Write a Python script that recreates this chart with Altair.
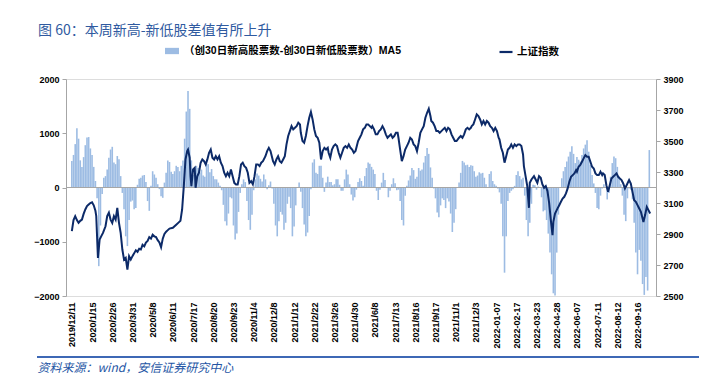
import altair as alt
import pandas as pd

# ---------------- data ----------------
BAR_LABEL = "（创30日新高股票数-创30日新低股票数）MA5"
LINE_LABEL = "上证指数"

tick_labels = ["2019/12/11", "2020/1/15", "2020/2/26", "2020/3/31", "2020/5/8", "2020/6/11",
               "2020/7/17", "2020/8/20", "2020/9/23", "2020/11/4", "2020/12/8", "2021/1/12",
               "2021/2/22", "2021/3/26", "2021/4/30", "2021/6/8", "2021/7/13", "2021/8/16",
               "2021/9/17", "2021/11/1", "2021/12/3", "2022-01-07", "2022-02-17", "2022-03-23",
               "2022-04-28", "2022-06-07", "2022-07-11", "2022-08-12", "2022-09-16"]
tick_day = [i * 24 for i in range(len(tick_labels))]  # trading-day index of each label

# new-high minus new-low (MA5), one value every 2 trading days
bar_day = list(range(0, 688, 2))
bar_val = [
    490, 600, 800, 1090, 900, 500, 380, 560, 780, 920, 930, 720, 600, 380, 120, -200,
    -1450, -700, -120, 180, 210, 330, 550, 700, 750, 460, 430, 580, 520, 210, -100, -400,
    -900, -1080, -600, -260, -240, -400, -380, 50, 160, 180, 220, 230, 100, -250, -430, 30,
    300, 240, 180, 60, -30, -160, -190, 90, 270, 500,
    470, 290, 250, 300, 400, 380, 300, 400, 500, 900, 1400, 1780, 1450, 500, 230, 250,
    400, 360, 280, 330, 220, 200, 440, 430, 280, 340, 210, 150, 150, 90, 30, -50,
    -320, -620, -700, -480, -180, -200, -700, -960, -850, -450, -100, 60, 150, 100, -250, -600,
    -780, -500, -50, 150, 260, 220, 160, 110, 240,
    150, -30, 40, 110, -20, -300, -700, -900, -620, -450, -500, -780, -650, -300, -170, -380,
    -900, -720, -330, 0, 90, -80, -380, -680, -900, -830, -525, -30, 460, 520, 270, 250,
    400, 400, 180, -80, 90, 200, 100, 100, 40, 60, 150, 150, 50, -60, -60, 150,
    330, 240, 60, -130, -240, -180, -40, 100,
    170, 120, 30, 210, 360, 460, 440, 380, 330, 250, -60, -230, -40, 90, 270, 140,
    -10, -180, -60, 60, 170, 80, -50, -40, -250, -600, -700, -150, 30, 130, 220, 360,
    320, 160, 200, 360, 310, 330, 460, 580, 730, 620, 370, 180, -20, -200, -460, -550,
    -330, -200, -230, -380, -200, -260, -480, -820, -650, -400,
    0, 90, 270, 490, 460, 410, 420, 380, 410, 400, 300, 200, 220, 280, 260, 270,
    180, 60, 0, 250, 300, 120, 60, 30, -20, -90, -300, -900, -1570, -900, -250, -100,
    -60, -30, 30, 230, 300, 210, 150, 180, -150, -600, -900, -650, -300, 50, 40, -40,
    20, 0, -180, -440, -420, -600, -850, -1200, -1600,
    -1950, -1990, -1200, -500, 0, 170, 300, 380, 480, 570, 660, 760, 620, 450, 560, 510,
    480, 600, 720, 790, 870, 660, 415, 230, 75, -100, -380, -400, -150, -20, 60, 0,
    -220, -100, 200, 450, 570, 540, 380, 200, 60, -150, -500, -620, -200, -20, -40, -220,
    -650, -1200, -1600, -1150, -1350, -1780, -1980, -1650, -1900, 690,
]

# Shanghai Composite index (right axis)
line_day = [
    0, 2, 4, 6, 8, 10, 12, 14, 16, 18, 20, 22, 24, 26, 28, 29, 31, 33, 35, 37, 40, 42, 44, 46,
    48, 50, 52, 54, 56, 58, 60, 62, 64, 66, 68, 70, 72, 74, 76, 78, 80, 82, 84, 86, 88, 90,
    92, 94, 96, 98, 100, 102, 104, 106, 108, 110, 112, 114,
    116, 120, 124, 127, 129, 131, 133, 135, 137, 138, 140, 141, 142, 144, 146, 147, 149, 151,
    153, 155, 157, 159, 161, 163, 165, 167, 169, 171, 173, 175, 177, 179, 181, 183, 185, 187,
    189, 191, 193, 195, 197, 199, 201, 203, 205, 207, 209, 211, 213, 215, 217, 219, 221, 223,
    225, 227,
    230, 232, 234, 236, 238, 239, 241, 243, 245, 247, 249, 251, 253, 255, 257, 259, 261, 263,
    265, 267, 269, 271, 272, 274, 276, 278, 280, 282, 284, 286, 288, 290, 292, 294, 296, 298,
    300, 302, 304, 305, 307, 309, 311, 313, 315, 317, 319, 321, 323, 325, 327, 329, 331, 333,
    335, 337, 338, 340, 342,
    344, 346, 348, 350, 352, 354, 356, 357, 359, 361, 363, 365, 367, 369, 371, 373, 375, 377,
    379, 381, 383, 385, 387, 388, 390, 392, 394, 396, 398, 400, 402, 404, 406, 408, 410, 412,
    414, 416, 418, 420, 422, 424, 426, 427, 429, 431, 433, 435, 437, 439, 441, 443, 445, 447,
    449, 451, 453, 455,
    457, 460, 462, 464, 466, 468, 470, 472, 474, 475, 477, 479, 481, 483, 485, 487, 489, 491,
    493, 495, 497, 499, 501, 503, 505, 507, 508, 510, 512, 514, 516, 518, 520, 522, 524, 526,
    528, 530, 532, 534, 536, 537, 539, 541, 543, 544, 546, 549, 551, 553, 555, 557, 559, 561,
    563, 565, 567, 569, 571,
    572, 574, 577, 579, 581, 583, 585, 587, 589, 591, 593, 595, 597, 599, 600, 602, 604, 606,
    608, 610, 612, 614, 616, 618, 620, 622, 624, 626, 628, 630, 631, 633, 635, 637, 639, 641,
    643, 645, 647, 649, 651, 653, 655, 657, 659, 661, 662, 664, 666, 668, 670, 672, 674, 676,
    678, 679, 681, 683, 685, 687,
]
line_val = [
    2918, 2990, 3015, 2990, 2972, 2985, 2993, 3030, 3058, 3080, 3090, 3100, 3105, 3085, 3050, 3015,
    2746, 2864, 2886, 2907, 2950, 3015, 3037, 2993, 2972, 3015, 2993, 3069, 2972, 2907, 2800, 2735,
    2746, 2670, 2757, 2735, 2757, 2775, 2795, 2785, 2805, 2800, 2830, 2820, 2845, 2855, 2880, 2870,
    2895, 2885, 2880, 2860, 2845, 2815, 2870, 2900, 2915, 2925,
    2935, 2940, 2960, 2975, 2985, 3058, 3209, 3381, 3435, 3445, 3392, 3273, 3209, 3316, 3327, 3198,
    3273, 3295, 3360, 3381, 3370, 3349, 3381, 3424, 3445, 3392, 3381, 3402, 3381, 3402, 3360, 3338,
    3295, 3273, 3295, 3273, 3316, 3273, 3230, 3220, 3220, 3273, 3349, 3360, 3338, 3327, 3295, 3230,
    3241, 3220, 3273, 3349, 3349, 3338, 3360, 3370,
    3402, 3435, 3456, 3435, 3392, 3370, 3349, 3381, 3402, 3370, 3360, 3381, 3402, 3478, 3532, 3564,
    3596, 3575, 3585, 3596, 3618, 3607, 3553, 3500, 3489, 3532, 3596, 3650, 3687, 3639, 3575, 3532,
    3521, 3489, 3381, 3435, 3456, 3445, 3456, 3424, 3392, 3445, 3467, 3478, 3467, 3424, 3392, 3424,
    3456, 3467, 3456, 3478, 3456, 3445, 3424, 3435, 3456, 3500, 3521,
    3543, 3575, 3585, 3607, 3607, 3596, 3585, 3596, 3575, 3543, 3543, 3564, 3575, 3596, 3575, 3543,
    3521, 3532, 3543, 3521, 3532, 3553, 3553, 3521, 3445, 3370, 3402, 3445, 3467, 3489, 3521, 3510,
    3478, 3467, 3435, 3489, 3553, 3575, 3596, 3650, 3682, 3708, 3661, 3629, 3618, 3596, 3564, 3564,
    3553, 3564, 3575, 3585, 3564, 3585, 3575, 3543, 3521, 3500,
    3500, 3521, 3532, 3521, 3543, 3575, 3585, 3575, 3585, 3596, 3607, 3639, 3672, 3661, 3639, 3607,
    3629, 3607, 3629, 3618, 3596, 3585, 3564, 3585, 3564, 3521, 3510, 3456, 3424, 3360, 3402, 3445,
    3456, 3478, 3456, 3478, 3467, 3478, 3478, 3467, 3413, 3338, 3273, 3209, 3069, 3230, 3252, 3273,
    3252, 3230, 3273, 3263, 3220, 3198, 3209, 3177, 3101, 2990, 2892,
    2978, 3032, 3065, 3086, 3108, 3129, 3140, 3162, 3194, 3237, 3269, 3280, 3291, 3312, 3302, 3334,
    3345, 3366, 3388, 3409, 3398, 3398, 3366, 3334, 3323, 3291, 3280, 3280, 3302, 3280, 3291, 3280,
    3215, 3172, 3215, 3258, 3269, 3280, 3291, 3269, 3258, 3248, 3226, 3194, 3215, 3237, 3248, 3226,
    3172, 3118, 3108, 3086, 3065, 3043, 3000, 2978, 3022, 3075, 3054, 3032,
]

left_ticks = [-2000, -1500, -1000, -500, 0, 500, 1000, 1500, 2000]
right_ticks = [2500, 2700, 2900, 3100, 3300, 3500, 3700, 3900]

# ---------------- styles ----------------
BAR_COLOR = "#9dbce3"
LEGEND_BAR_COLOR = "#7ea5d8"
LINE_COLOR = "#0c2a68"
AXIS_GREY = "#a6a6a6"
LAT = "Liberation Sans, Noto Sans CJK SC"
CJK = "Noto Sans CJK SC"

bar_df = pd.DataFrame({"d": bar_day, "v": bar_val, "s": BAR_LABEL})
line_df = pd.DataFrame({"d": line_day, "sh": line_val, "s": LINE_LABEL})
zero_df = pd.DataFrame({"z": [0]})

label_expr = "[" + ",".join("'%s'" % t for t in tick_labels) + "][round(datum.value / 24)]"

x_enc = alt.X(
    "d:Q",
    scale=alt.Scale(domain=[-1, 688], nice=False, zero=False),
    axis=alt.Axis(
        values=tick_day, labelExpr=label_expr, labelAngle=-90, labelAlign="right",
        labelBaseline="middle", labelFont=LAT, labelFontSize=9, labelFontWeight="bold",
        labelColor="#000000", labelPadding=6, domain=False, ticks=False, grid=False,
        labelOverlap=False, labelFlush=False,
        title="资料来源：wind，安信证券研究中心", titleX=-29, titleY=75, titleAlign="left",
        titleAnchor="start", titleBaseline="alphabetic", titleFont=CJK, titleFontSize=12,
        titleFontStyle="italic", titleFontWeight="normal", titleColor="#2455a4",
    ),
)

bars = alt.Chart(bar_df).mark_bar(width=1.6).encode(
    x=x_enc,
    y=alt.Y(
        "v:Q",
        scale=alt.Scale(domain=[-2000, 2000], nice=False),
        axis=alt.Axis(
            values=left_ticks, format="d", title=None, grid=False, domainColor=AXIS_GREY,
            tickColor=AXIS_GREY, tickSize=4, labelPadding=3, labelFont=LAT,
            labelFontSize=9, labelFontWeight="bold", labelColor="#000000",
        ),
    ),
    fill=alt.Fill(
        "s:N",
        scale=alt.Scale(domain=[BAR_LABEL], range=[BAR_COLOR]),
        legend=alt.Legend(
            orient="none", legendX=99, legendY=-35, title=None, padding=0,
            symbolType="M-1,-0.45H1V0.45H-1Z", symbolSize=196, symbolStrokeWidth=0,
            symbolFillColor=LEGEND_BAR_COLOR,
            labelFont=LAT, labelFontSize=10.5, labelFontWeight="bold",
            labelColor="#000000", labelOffset=5, labelLimit=400,
        ),
    ),
)

zero_rule = alt.Chart(zero_df).mark_rule(color=AXIS_GREY, strokeWidth=1).encode(y="z:Q")

left_layer = alt.layer(bars, zero_rule)

line = alt.Chart(line_df).mark_line(strokeWidth=2).encode(
    x=x_enc,
    y=alt.Y(
        "sh:Q",
        scale=alt.Scale(domain=[2500, 3900], nice=False, zero=False),
        axis=alt.Axis(
            orient="right", values=right_ticks, format="d", title=None, grid=False,
            domainColor=AXIS_GREY, tickColor=AXIS_GREY, tickSize=4, labelPadding=3,
            labelFont=LAT, labelFontSize=9, labelFontWeight="bold", labelColor="#000000",
        ),
    ),
    stroke=alt.Stroke(
        "s:N",
        scale=alt.Scale(domain=[LINE_LABEL], range=[LINE_COLOR]),
        legend=alt.Legend(
            orient="none", legendX=432, legendY=-35, title=None, padding=0,
            symbolType="stroke", symbolSize=169, symbolStrokeWidth=2.2,
            labelFont=LAT, labelFontSize=10.5, labelFontWeight="bold",
            labelColor="#000000", labelOffset=3,
        ),
    ),
)

separator = alt.Chart(zero_df).mark_rule(color="#3d68b5", strokeWidth=2).encode(
    x=alt.value(-29), x2=alt.value(633), y=alt.value(278)
)

chart = (
    alt.layer(left_layer, line, separator)
    .resolve_scale(y="independent", fill="independent", stroke="independent")
    .properties(
        width=590,
        height=217,
        autosize=alt.AutoSizeParams(type="none"),
        padding={"left": 58, "top": 71, "right": 43, "bottom": 81},
        title=alt.TitleParams(
            text="图 60：本周新高-新低股差值有所上升", anchor="start", frame="group",
            dx=-28, offset=6, font=CJK, fontSize=14, fontWeight="normal", color="#2f5aa0",
        ),
    )
    .configure_view(stroke=None)
    .configure(background="white")
)

chart.save("out.html", embed_options={"renderer": "svg", "actions": False})
